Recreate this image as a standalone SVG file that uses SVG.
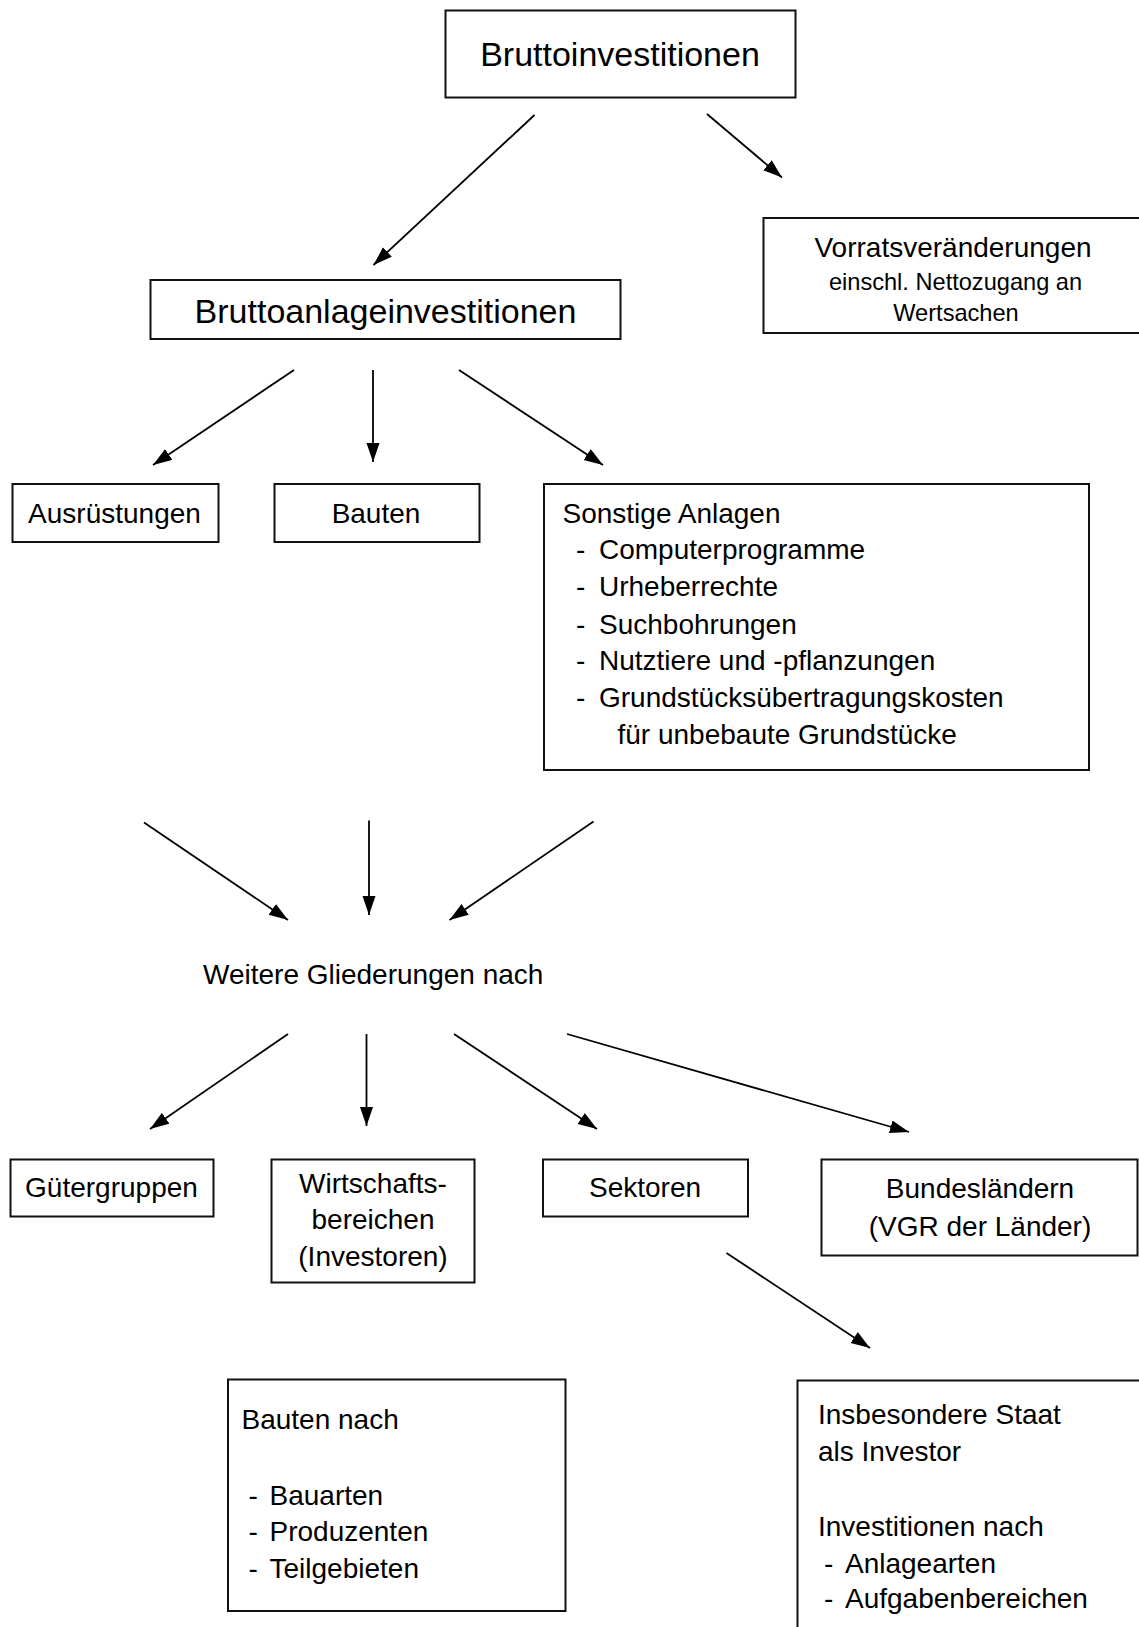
<svg xmlns="http://www.w3.org/2000/svg" width="1139" height="1627" viewBox="0 0 1139 1627">
<style>
.box{fill:#fff;stroke:#111;stroke-width:2}
.t{font-family:"Liberation Sans",Arial,sans-serif;font-size:28px;fill:#000}
.m{text-anchor:middle}
.big{font-size:34px}
.c{stroke:#000;stroke-width:1.8;fill:none;marker-end:url(#ah)}
</style>
<defs>
<marker id="ah" markerUnits="userSpaceOnUse" markerWidth="20" markerHeight="14" refX="19" refY="6.5" orient="auto">
<path d="M0,0 L19,6.5 L0,13 z" fill="#000"/>
</marker>
</defs>
<rect width="1139" height="1627" fill="#fff"/>
<g id="connectors">
<line class="c" x1="534.5" y1="115" x2="373.5" y2="265"/>
<line class="c" x1="707" y1="114" x2="782" y2="177.5"/>
<line class="c" x1="294" y1="370" x2="153" y2="465"/>
<line class="c" x1="373" y1="370" x2="373" y2="462"/>
<line class="c" x1="459" y1="370" x2="603" y2="465"/>
<line class="c" x1="144" y1="822.5" x2="288" y2="920"/>
<line class="c" x1="369" y1="820.5" x2="369" y2="915"/>
<line class="c" x1="593.5" y1="821.5" x2="449.5" y2="920"/>
<line class="c" x1="288" y1="1034" x2="150" y2="1129"/>
<line class="c" x1="366.5" y1="1034" x2="366.5" y2="1126"/>
<line class="c" x1="454" y1="1034" x2="597" y2="1129"/>
<line class="c" x1="567" y1="1034" x2="909" y2="1132"/>
<line class="c" x1="726.5" y1="1253" x2="870" y2="1348"/>
</g>
<g id="bruttoinvestitionen">
<rect class="box" x="445.5" y="10.5" width="350" height="87"/>
<text class="t m big" x="620" y="66">Bruttoinvestitionen</text>
</g>
<g id="vorratsveraenderungen">
<rect class="box" x="763.5" y="218" width="378" height="115"/>
<text class="t m" x="953" y="256.5">Vorratsveränderungen</text>
<text class="t m" x="955.5" y="289.5" style="font-size:23.6px">einschl. Nettozugang an</text>
<text class="t m" x="956" y="321" style="font-size:23.6px">Wertsachen</text>
</g>
<g id="bruttoanlageinvestitionen">
<rect class="box" x="150.5" y="280" width="470" height="59"/>
<text class="t m big" x="385.5" y="322.5">Bruttoanlageinvestitionen</text>
</g>
<g id="ausruestungen">
<rect class="box" x="12.5" y="484" width="206" height="58"/>
<text class="t m" x="114.5" y="522.5">Ausrüstungen</text>
</g>
<g id="bauten">
<rect class="box" x="274.5" y="484" width="205" height="58"/>
<text class="t m" x="376" y="522.5">Bauten</text>
</g>
<g id="sonstige-anlagen">
<rect class="box" x="544" y="484" width="545" height="286"/>
<text class="t" x="562.5" y="523">Sonstige Anlagen</text>
<text class="t" x="576" y="559">-</text><text class="t" x="599" y="559">Computerprogramme</text>
<text class="t" x="576" y="596">-</text><text class="t" x="599" y="596">Urheberrechte</text>
<text class="t" x="576" y="633.5">-</text><text class="t" x="599" y="633.5">Suchbohrungen</text>
<text class="t" x="576" y="670">-</text><text class="t" x="599" y="670">Nutztiere und -pflanzungen</text>
<text class="t" x="576" y="707">-</text><text class="t" x="599" y="707">Grundstücksübertragungskosten</text>
<text class="t" x="617.5" y="744">für unbebaute Grundstücke</text>
</g>
<g id="weitere-gliederungen">
<text class="t" x="203" y="984">Weitere Gliederungen nach</text>
</g>
<g id="guetergruppen">
<rect class="box" x="10.5" y="1159.5" width="203" height="57"/>
<text class="t m" x="111.5" y="1197">Gütergruppen</text>
</g>
<g id="wirtschaftsbereichen">
<rect class="box" x="271.5" y="1159.5" width="203" height="123"/>
<text class="t m" x="373" y="1193">Wirtschafts-</text>
<text class="t m" x="373" y="1229">bereichen</text>
<text class="t m" x="373" y="1265.5">(Investoren)</text>
</g>
<g id="sektoren">
<rect class="box" x="543" y="1159.5" width="205" height="57"/>
<text class="t m" x="645" y="1197">Sektoren</text>
</g>
<g id="bundeslaendern">
<rect class="box" x="821.5" y="1159.5" width="316" height="96"/>
<text class="t m" x="980" y="1198">Bundesländern</text>
<text class="t m" x="980" y="1235.5">(VGR der Länder)</text>
</g>
<g id="bauten-nach">
<rect class="box" x="228" y="1379.5" width="337.5" height="231.5"/>
<text class="t" x="241.5" y="1429">Bauten nach</text>
<text class="t" x="248.5" y="1505">-</text><text class="t" x="269.5" y="1505">Bauarten</text>
<text class="t" x="248.5" y="1541">-</text><text class="t" x="269.5" y="1541">Produzenten</text>
<text class="t" x="248.5" y="1578">-</text><text class="t" x="269.5" y="1578">Teilgebieten</text>
</g>
<g id="staat-als-investor">
<rect class="box" x="797.5" y="1380.5" width="345" height="250"/>
<text class="t" x="818" y="1424">Insbesondere Staat</text>
<text class="t" x="818" y="1461">als Investor</text>
<text class="t" x="818" y="1536">Investitionen nach</text>
<text class="t" x="824" y="1573">-</text><text class="t" x="845" y="1573">Anlagearten</text>
<text class="t" x="824" y="1608">-</text><text class="t" x="845" y="1608">Aufgabenbereichen</text>
</g>
</svg>
